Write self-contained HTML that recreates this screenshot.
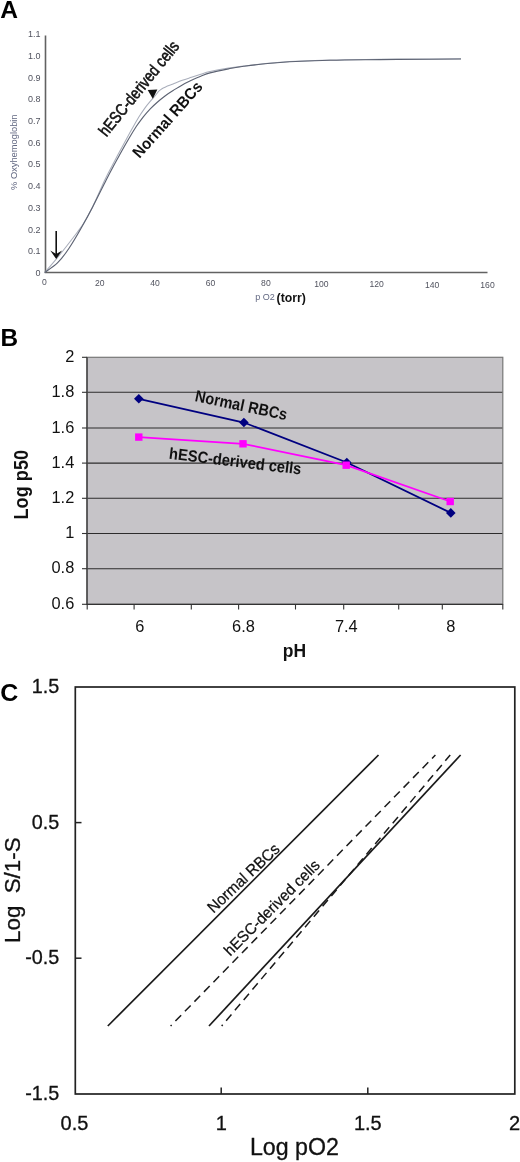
<!DOCTYPE html>
<html><head><meta charset="utf-8"><title>Figure</title>
<style>
html,body{margin:0;padding:0;background:#fff;}
body{width:520px;height:1162px;overflow:hidden;}
svg{display:block;filter:blur(0.3px);font-family:"Liberation Sans",Arial,Helvetica,sans-serif;}
</style></head><body>
<svg width="520" height="1162" viewBox="0 0 520 1162">
<rect width="520" height="1162" fill="#fff"/>
<g id="panelA">
<text transform="translate(0.2 18.1) scale(1.06 1)" font-size="23.2" font-weight="bold" fill="#000">A</text>
<path d="M45.5 35.5 V272.5 H487.5" fill="none" stroke="#626262" stroke-width="1.6"/>
<text x="40.4" y="275.9" font-size="9" fill="#51535f" text-anchor="end">0</text>
<text x="40.4" y="254.2" font-size="9" fill="#51535f" text-anchor="end">0.1</text>
<text x="40.4" y="232.5" font-size="9" fill="#51535f" text-anchor="end">0.2</text>
<text x="40.4" y="210.8" font-size="9" fill="#51535f" text-anchor="end">0.3</text>
<text x="40.4" y="189.1" font-size="9" fill="#51535f" text-anchor="end">0.4</text>
<text x="40.4" y="167.4" font-size="9" fill="#51535f" text-anchor="end">0.5</text>
<text x="40.4" y="145.7" font-size="9" fill="#51535f" text-anchor="end">0.6</text>
<text x="40.4" y="124.0" font-size="9" fill="#51535f" text-anchor="end">0.7</text>
<text x="40.4" y="102.3" font-size="9" fill="#51535f" text-anchor="end">0.8</text>
<text x="40.4" y="80.6" font-size="9" fill="#51535f" text-anchor="end">0.9</text>
<text x="40.4" y="58.9" font-size="9" fill="#51535f" text-anchor="end">1.0</text>
<text x="40.4" y="37.2" font-size="9" fill="#51535f" text-anchor="end">1.1</text>
<text x="44.3" y="285.4" font-size="8.6" fill="#51535f" text-anchor="middle">0</text>
<text x="99.7" y="285.9" font-size="8.6" fill="#51535f" text-anchor="middle">20</text>
<text x="155.1" y="286.1" font-size="8.6" fill="#51535f" text-anchor="middle">40</text>
<text x="210.5" y="286.1" font-size="8.6" fill="#51535f" text-anchor="middle">60</text>
<text x="265.9" y="286.3" font-size="8.6" fill="#51535f" text-anchor="middle">80</text>
<text x="321.3" y="286.7" font-size="8.6" fill="#51535f" text-anchor="middle">100</text>
<text x="376.7" y="287.1" font-size="8.6" fill="#51535f" text-anchor="middle">120</text>
<text x="432.1" y="287.5" font-size="8.6" fill="#51535f" text-anchor="middle">140</text>
<text x="487.5" y="288.3" font-size="8.6" fill="#51535f" text-anchor="middle">160</text>
<text transform="translate(17.2 152.2) rotate(-90)" font-size="9.2" fill="#626882" text-anchor="middle" textLength="75.5" lengthAdjust="spacingAndGlyphs">% Oxyhemoglobin</text>
<text x="255.3" y="300.2" font-size="9" fill="#626882">p O2</text>
<text x="276.6" y="301.5" font-size="12.3" font-weight="bold" fill="#111">(torr)</text>
<path d="M44.6 272.5 C46.5 270.4 52.0 264.2 55.8 259.6 C59.6 255.1 63.8 249.7 67.3 245.2 C70.8 240.7 74.2 236.3 76.9 232.7 C79.6 229.1 80.9 227.8 83.5 223.5 C86.1 219.2 89.0 214.1 92.6 206.8 C96.1 199.6 101.6 186.8 104.8 180.0 C108.0 173.2 109.5 170.7 112.0 166.0 C114.5 161.3 117.0 156.4 119.5 151.8 C122.0 147.1 124.7 142.2 127.0 137.9 C129.3 133.6 131.5 129.7 133.5 126.2 C135.5 122.7 137.2 119.8 139.0 116.8 C140.8 113.9 142.7 111.1 144.5 108.6 C146.3 106.1 148.2 103.8 150.0 101.7 C151.8 99.6 153.5 97.7 155.0 96.0 C156.5 94.2 157.6 92.4 158.8 91.2 C160.0 90.0 160.8 89.4 162.0 88.7 C163.2 88.0 164.2 87.6 166.0 86.8 C167.8 86.0 170.4 85.1 173.1 84.0 C175.8 82.9 179.2 81.4 182.3 80.3 C185.4 79.2 188.4 78.3 191.5 77.3 C194.6 76.3 197.7 75.3 200.8 74.3 C203.9 73.3 205.4 72.5 210.0 71.5 C214.6 70.5 222.9 69.0 228.5 68.1 C234.1 67.2 235.2 67.1 243.8 66.1 C252.4 65.1 265.6 63.2 280.0 62.2 C294.4 61.2 313.3 60.5 330.0 60.0 C346.7 59.5 363.3 59.5 380.0 59.3 C396.7 59.1 416.5 59.1 430.0 59.0 C443.5 58.9 455.8 58.8 461.0 58.8" fill="none" stroke="#a9aebb" stroke-width="1.05"/>
<path d="M44.6 272.5 C46.8 270.9 53.6 266.8 57.7 262.7 C61.8 258.6 65.4 253.7 69.2 248.0 C73.0 242.3 77.0 235.5 80.8 228.8 C84.6 222.1 88.1 215.8 92.3 207.7 C96.5 199.6 102.7 186.9 106.2 180.0 C109.7 173.1 111.0 170.7 113.5 166.0 C116.0 161.3 118.6 156.7 121.2 152.0 C123.8 147.3 126.7 142.3 129.2 138.0 C131.7 133.7 134.1 129.7 136.4 126.2 C138.8 122.7 141.0 119.8 143.3 116.8 C145.7 113.9 148.2 111.0 150.5 108.6 C152.8 106.2 154.9 104.3 157.3 102.2 C159.7 100.1 162.4 98.0 165.0 96.0 C167.6 94.0 170.2 92.3 173.1 90.5 C176.0 88.7 179.2 86.6 182.3 84.9 C185.4 83.2 188.4 81.8 191.5 80.3 C194.6 78.8 197.7 77.4 200.8 76.2 C203.9 75.0 205.4 74.1 210.0 72.9 C214.6 71.7 222.9 70.0 228.5 68.9 C234.1 67.8 235.2 67.4 243.8 66.3 C252.4 65.2 265.6 63.5 280.0 62.5 C294.4 61.5 313.3 60.8 330.0 60.3 C346.7 59.8 363.3 59.8 380.0 59.6 C396.7 59.4 416.5 59.3 430.0 59.2 C443.5 59.1 455.8 59.0 461.0 59.0" fill="none" stroke="#5d6373" stroke-width="1.15"/>
<path d="M56.2 231 V254" stroke="#111" stroke-width="1.6" fill="none"/>
<path d="M50.3 250.6 L56.2 254 L62.1 250.6 L56.2 259 Z" fill="#111"/>
<path d="M147.7 90 L157.4 89.5 L152.8 98.8 Z" fill="#111"/>
<text transform="translate(106.5 137.5) rotate(-51)" font-size="16.7" fill="#111" stroke="#111" stroke-width="0.55" textLength="117" lengthAdjust="spacingAndGlyphs">hESC-derived cells</text>
<text transform="translate(139.6 159) rotate(-48.3)" font-size="16" font-weight="bold" fill="#111" textLength="96" lengthAdjust="spacingAndGlyphs">Normal RBCs</text>
</g>
<g id="panelB">
<text transform="translate(0.5 345.8) scale(1.06 1)" font-size="23" font-weight="bold" fill="#000">B</text>
<rect x="87" y="357.3" width="415.8" height="247" fill="#c6c4c8"/>
<path d="M87 392.3 H502.8" stroke="#2c2c2c" stroke-width="1.05"/>
<path d="M87 428.0 H502.8" stroke="#2c2c2c" stroke-width="1.05"/>
<path d="M87 463.1 H502.8" stroke="#2c2c2c" stroke-width="1.05"/>
<path d="M87 498.3 H502.8" stroke="#2c2c2c" stroke-width="1.05"/>
<path d="M87 533.5 H502.8" stroke="#2c2c2c" stroke-width="1.05"/>
<path d="M87 568.7 H502.8" stroke="#2c2c2c" stroke-width="1.05"/>
<rect x="87" y="357.3" width="415.8" height="247" fill="none" stroke="#777" stroke-width="1.2"/>
<path d="M87 357.3 V604.3 H502.8" fill="none" stroke="#333" stroke-width="1.2"/>
<path d="M82 357.3 H87" stroke="#333" stroke-width="1.1"/>
<path d="M82 392.3 H87" stroke="#333" stroke-width="1.1"/>
<path d="M82 428.0 H87" stroke="#333" stroke-width="1.1"/>
<path d="M82 463.1 H87" stroke="#333" stroke-width="1.1"/>
<path d="M82 498.3 H87" stroke="#333" stroke-width="1.1"/>
<path d="M82 533.5 H87" stroke="#333" stroke-width="1.1"/>
<path d="M82 568.7 H87" stroke="#333" stroke-width="1.1"/>
<path d="M82 604.3 H87" stroke="#333" stroke-width="1.1"/>
<path d="M87.2 604.3 V609.5" stroke="#333" stroke-width="1.1"/>
<path d="M134.1 604.3 V609.5" stroke="#333" stroke-width="1.1"/>
<path d="M191.3 604.3 V609.5" stroke="#333" stroke-width="1.1"/>
<path d="M238.6 604.3 V609.5" stroke="#333" stroke-width="1.1"/>
<path d="M295.5 604.3 V609.5" stroke="#333" stroke-width="1.1"/>
<path d="M343.7 604.3 V609.5" stroke="#333" stroke-width="1.1"/>
<path d="M398.7 604.3 V609.5" stroke="#333" stroke-width="1.1"/>
<path d="M442.3 604.3 V609.5" stroke="#333" stroke-width="1.1"/>
<path d="M502.8 604.3 V609.5" stroke="#333" stroke-width="1.1"/>
<text x="74.3" y="362.0" font-size="16.4" fill="#111" text-anchor="end">2</text>
<text x="74.3" y="397.0" font-size="16.4" fill="#111" text-anchor="end">1.8</text>
<text x="74.3" y="432.7" font-size="16.4" fill="#111" text-anchor="end">1.6</text>
<text x="74.3" y="467.8" font-size="16.4" fill="#111" text-anchor="end">1.4</text>
<text x="74.3" y="503.0" font-size="16.4" fill="#111" text-anchor="end">1.2</text>
<text x="74.3" y="538.2" font-size="16.4" fill="#111" text-anchor="end">1</text>
<text x="74.3" y="573.4" font-size="16.4" fill="#111" text-anchor="end">0.8</text>
<text x="74.3" y="609.0" font-size="16.4" fill="#111" text-anchor="end">0.6</text>
<text x="139.8" y="632.3" font-size="16.4" fill="#111" text-anchor="middle">6</text>
<text x="243.5" y="632.3" font-size="16.4" fill="#111" text-anchor="middle">6.8</text>
<text x="346.3" y="632.3" font-size="16.4" fill="#111" text-anchor="middle">7.4</text>
<text x="450.9" y="632.3" font-size="16.4" fill="#111" text-anchor="middle">8</text>
<text transform="translate(27.5 484.7) rotate(-90)" font-size="19.5" font-weight="bold" fill="#111" text-anchor="middle" textLength="69.5" lengthAdjust="spacingAndGlyphs">Log p50</text>
<text x="294.5" y="656.5" font-size="17.5" font-weight="bold" fill="#111" text-anchor="middle">pH</text>
<polyline points="138.8,398.8 243.9,422.5 346.8,462.5 450.8,512.9" fill="none" stroke="#000080" stroke-width="1.8"/>
<polyline points="138.8,437.1 243.0,443.8 346.2,465.2 450.2,501.5" fill="none" stroke="#ff00ff" stroke-width="1.8"/>
<path d="M138.8 394.0 l4.8 4.8 l-4.8 4.8 l-4.8 -4.8 Z" fill="#000080"/>
<path d="M243.9 417.7 l4.8 4.8 l-4.8 4.8 l-4.8 -4.8 Z" fill="#000080"/>
<path d="M346.8 457.7 l4.8 4.8 l-4.8 4.8 l-4.8 -4.8 Z" fill="#000080"/>
<path d="M450.8 508.1 l4.8 4.8 l-4.8 4.8 l-4.8 -4.8 Z" fill="#000080"/>
<rect x="135.1" y="433.4" width="7.4" height="7.4" fill="#ff00ff"/>
<rect x="239.3" y="440.1" width="7.4" height="7.4" fill="#ff00ff"/>
<rect x="342.5" y="461.5" width="7.4" height="7.4" fill="#ff00ff"/>
<rect x="446.5" y="497.8" width="7.4" height="7.4" fill="#ff00ff"/>
<text transform="translate(194.3 401) rotate(11.9)" font-size="16.4" font-weight="bold" fill="#111" textLength="93.5" lengthAdjust="spacingAndGlyphs">Normal RBCs</text>
<text transform="translate(168.6 458.8) rotate(6.8)" font-size="16.3" font-weight="bold" fill="#111" textLength="133" lengthAdjust="spacingAndGlyphs">hESC-derived cells</text>
</g>
<g id="panelC">
<text transform="translate(0.2 701) scale(1.05 1)" font-size="23.8" font-weight="bold" fill="#000">C</text>
<rect x="75.3" y="687" width="439.5" height="407" fill="none" stroke="#222" stroke-width="1.7"/>
<path d="M75.3 822.6 H81.5" stroke="#222" stroke-width="1.5"/>
<path d="M75.3 958.2 H81.5" stroke="#222" stroke-width="1.5"/>
<path d="M221.2 1094 V1087.5" stroke="#222" stroke-width="1.5"/>
<path d="M367.8 1094 V1087.5" stroke="#222" stroke-width="1.5"/>
<text x="59.3" y="693.2" font-size="19.8" fill="#111" stroke="#111" stroke-width="0.3" text-anchor="end">1.5</text>
<text x="59.3" y="828.8" font-size="19.8" fill="#111" stroke="#111" stroke-width="0.3" text-anchor="end">0.5</text>
<text x="59.3" y="964.4" font-size="19.8" fill="#111" stroke="#111" stroke-width="0.3" text-anchor="end">-0.5</text>
<text x="59.3" y="1100.0" font-size="19.8" fill="#111" stroke="#111" stroke-width="0.3" text-anchor="end">-1.5</text>
<text x="74.5" y="1130.4" font-size="20" fill="#111" stroke="#111" stroke-width="0.3" text-anchor="middle">0.5</text>
<text x="221.2" y="1130.4" font-size="20" fill="#111" stroke="#111" stroke-width="0.3" text-anchor="middle">1</text>
<text x="367.8" y="1130.4" font-size="20" fill="#111" stroke="#111" stroke-width="0.3" text-anchor="middle">1.5</text>
<text x="514.5" y="1130.4" font-size="20" fill="#111" stroke="#111" stroke-width="0.3" text-anchor="middle">2</text>
<text transform="translate(20.3 890.2) rotate(-90)" font-size="22" fill="#111" stroke="#111" stroke-width="0.3" text-anchor="middle" textLength="105.5" lengthAdjust="spacingAndGlyphs" xml:space="preserve">Log  S/1-S</text>
<text x="294.4" y="1155.3" font-size="23.2" fill="#111" stroke="#111" stroke-width="0.3" text-anchor="middle">Log pO2</text>
<path d="M107.8 1026 L378.5 755" stroke="#1a1a1a" stroke-width="1.7"/>
<path d="M209 1026 L460.6 755" stroke="#1a1a1a" stroke-width="1.7"/>
<path d="M170.6 1026 L435.4 755" stroke="#1a1a1a" stroke-width="1.5" stroke-dasharray="8.2 5.4" stroke-dashoffset="6.7"/>
<path d="M221.7 1026 L450.2 755" stroke="#1a1a1a" stroke-width="1.5" stroke-dasharray="8.2 5.4" stroke-dashoffset="6.7"/>
<text transform="translate(213.5 913.7) rotate(-43.3)" font-size="16" fill="#111" stroke="#111" stroke-width="0.25" textLength="92.5" lengthAdjust="spacingAndGlyphs">Normal RBCs</text>
<text transform="translate(230.3 956.7) rotate(-45)" font-size="15.6" fill="#111" stroke="#111" stroke-width="0.25" textLength="128" lengthAdjust="spacingAndGlyphs">hESC-derived cells</text>
</g>
</svg>
</body></html>
